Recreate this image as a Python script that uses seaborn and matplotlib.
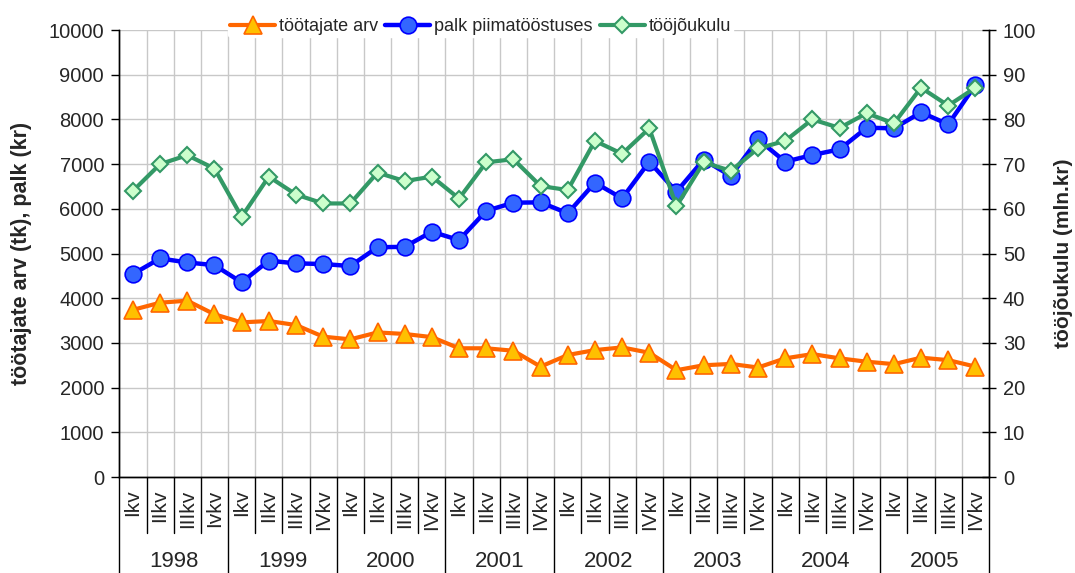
import numpy as np
import pandas as pd
import matplotlib
matplotlib.use("Agg")
import matplotlib.pyplot as plt
from matplotlib.lines import Line2D
import seaborn as sns

# andmed (loetud jooniselt)
years = ["1998", "1999", "2000", "2001", "2002", "2003", "2004", "2005"]
quarters = ["Ikv", "IIkv", "IIIkv", "IVkv"]
tick_labels = quarters * len(years)
tick_labels[3] = "Ivkv"  # originaalis nii kirjutatud

tootajate_arv = [3740, 3900, 3945, 3640, 3460, 3490, 3400, 3140,
                 3080, 3235, 3200, 3130, 2880, 2880, 2825, 2470,
                 2730, 2840, 2900, 2780, 2390, 2500, 2530, 2450,
                 2655, 2750, 2655, 2580, 2525, 2670, 2615, 2470]
palk = [4540, 4890, 4800, 4740, 4355, 4840, 4780, 4765,
        4720, 5140, 5150, 5488, 5300, 5955, 6137, 6145,
        5900, 6585, 6234, 7054, 6383, 7100, 6734, 7555,
        7054, 7204, 7330, 7815, 7800, 8158, 7890, 8770]
toojoukulu = [64.0, 70.0, 72.0, 69.0, 58.2, 67.2, 63.2, 61.2,
              61.2, 68.1, 66.2, 67.2, 62.3, 70.4, 71.1, 65.1,
              64.2, 75.2, 72.3, 78.0, 60.6, 70.4, 68.5, 73.5,
              75.2, 80.0, 78.1, 81.4, 79.1, 87.1, 83.1, 87.1]

df = pd.DataFrame({
    "pos": np.arange(len(tick_labels)),
    "tootajad": tootajate_arv,
    "palk": palk,
    "kulu": toojoukulu,
})

sns.set_style("white")
plt.rcParams["font.family"] = ["Liberation Sans", "DejaVu Sans"]

fig, ax = plt.subplots(figsize=(10.75, 5.73), dpi=100)
fig.subplots_adjust(left=0.111, right=0.920, bottom=0.1675, top=0.9476)
ax2 = ax.twinx()

sns.lineplot(data=df, x="pos", y="tootajad", ax=ax, legend=False,
             color="#FF6600", lw=3, marker="^", ms=13,
             markerfacecolor="#FFC000", markeredgecolor="#FF6600",
             markeredgewidth=1.2, label="töötajate arv")
sns.lineplot(data=df, x="pos", y="palk", ax=ax, legend=False,
             color="#0000FF", lw=3.2, marker="o", ms=12,
             markerfacecolor="#3366FF", markeredgecolor="#0000FF",
             markeredgewidth=1.2, label="palk piimatööstuses")
sns.lineplot(data=df, x="pos", y="kulu", ax=ax2, legend=False,
             color="#339966", lw=3, marker="D", ms=8,
             markerfacecolor="#CCFFCC", markeredgecolor="#339966",
             markeredgewidth=1.5, label="tööjõukulu")

n = len(tick_labels)
ax.set_xlim(-0.5, n - 0.5)
ax.set_ylim(0, 10000)
ax2.set_ylim(0, 100)
ax.set_yticks(np.arange(0, 10001, 1000))
ax2.set_yticks(np.arange(0, 101, 10))

# ruudustik
ax.set_xticks(np.arange(n))
ax.set_xticks(np.arange(n - 1) + 0.5, minor=True)
ax.grid(axis="y", which="major", color="#C8C8C8", lw=1)
ax.grid(axis="x", which="minor", color="#C8C8C8", lw=1)
ax.set_axisbelow(True)

ax.set_xticklabels(tick_labels, rotation=90, fontsize=15)
ax.tick_params(axis="x", which="both", length=0, pad=9)
ax.tick_params(axis="y", labelsize=14.5, length=6, width=1, direction="out",
               left=True, color="black", pad=5)
ax2.tick_params(axis="y", labelsize=14.5, length=10, width=1, direction="inout",
                right=True, color="black", pad=5)

for a in (ax, ax2):
    a.spines["top"].set_visible(False)
    for s in ("left", "right", "bottom"):
        a.spines[s].set_color("black")
        a.spines[s].set_linewidth(1)

ax.set_xlabel("")
ax.set_ylabel("töötajate arv (tk), palk (kr)", fontsize=15.5, fontweight="bold", labelpad=12)
ax2.set_ylabel("tööjõukulu (mln.kr)", fontsize=15, fontweight="bold", labelpad=13)

# kahetasemeline x-telg: kvartalid ja aastad
trans = ax.get_xaxis_transform()
for i in range(n + 1):
    x = i - 0.5
    low = -0.215 if i % 4 == 0 else -0.125
    ax.add_line(Line2D([x, x], [0, low], transform=trans, color="black",
                       lw=1, clip_on=False))
for k, yr in enumerate(years):
    ax.text(4 * k + 1.5, -0.188, yr, transform=trans, ha="center",
            va="center", fontsize=16)

# legend
handles = [ax.lines[0], ax.lines[1], ax2.lines[0]]
labels = [h.get_label() for h in handles]
leg = fig.legend(handles, labels, loc="center", bbox_to_anchor=(0.447, 0.953),
                 ncol=3, fontsize=13, frameon=True, facecolor="white",
                 edgecolor="white", framealpha=1, handlelength=2.5,
                 handletextpad=0.2, columnspacing=0.4, borderpad=0.1)

fig.savefig("out.png", dpi=100)
